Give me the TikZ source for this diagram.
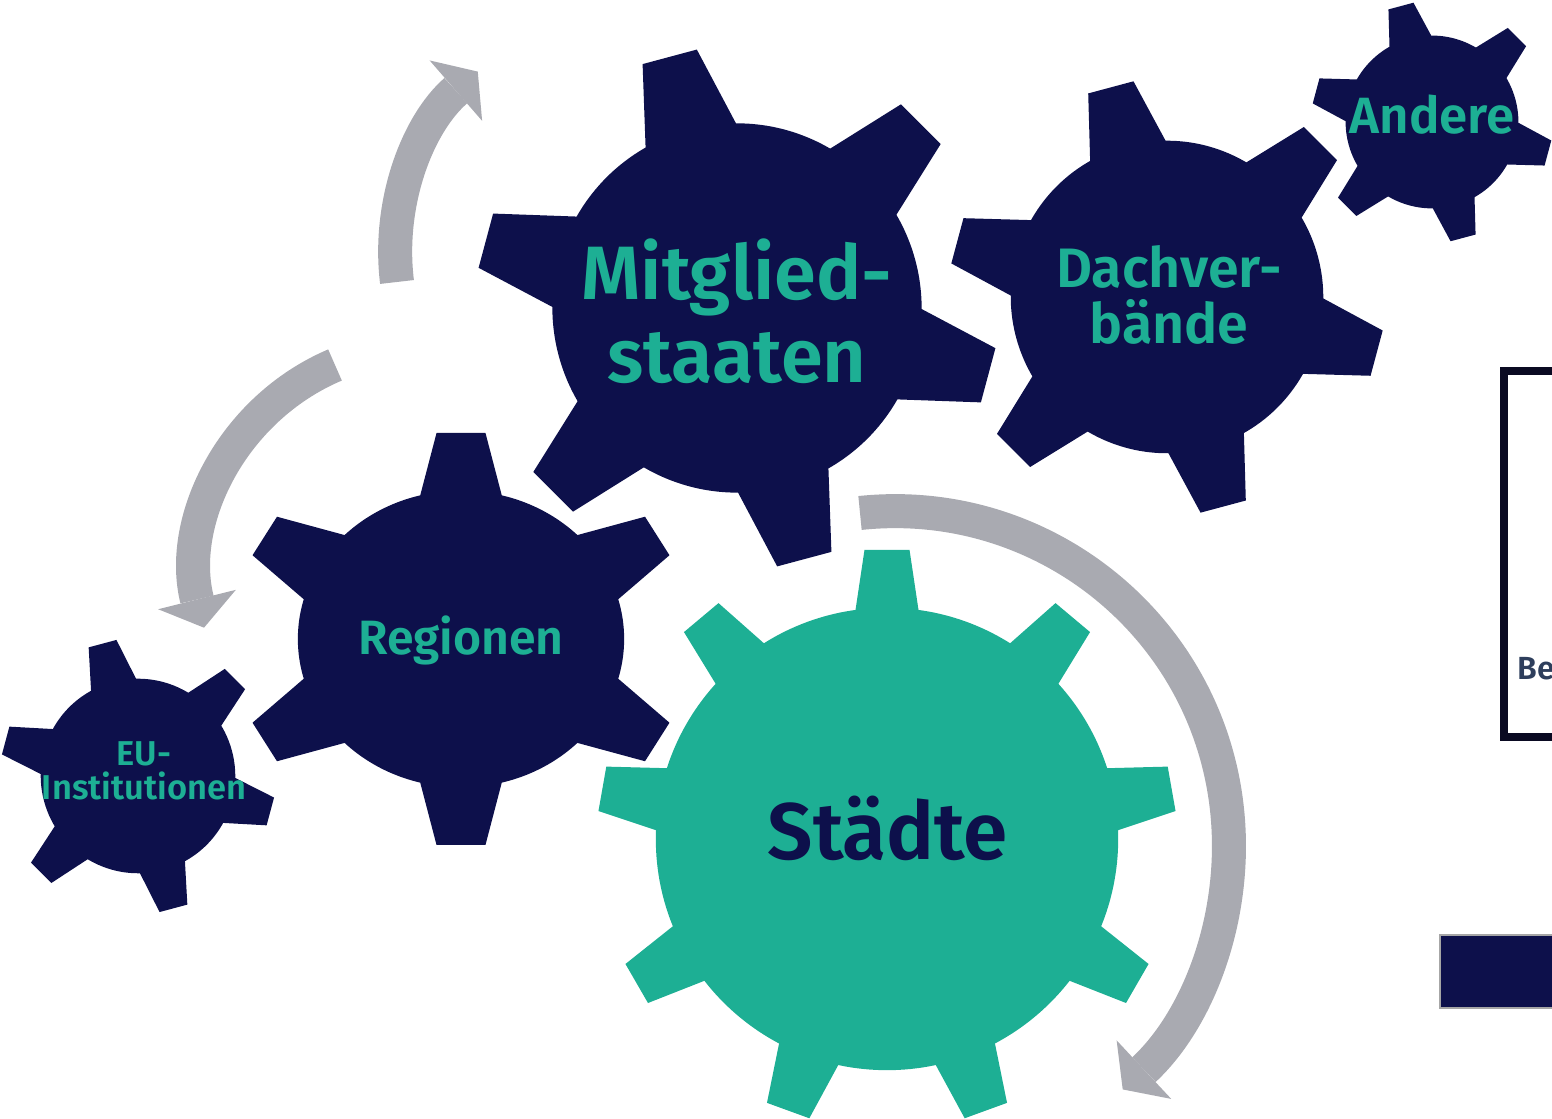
\documentclass[tikz,border=0pt]{standalone}
\usepackage{fontspec}
\setmainfont{Fira Sans}[BoldFont={Fira Sans SemiBold}]
\usetikzlibrary{arrows.meta}
\definecolor{gearnavy}{HTML}{0D104B}
\definecolor{gearteal}{HTML}{1DAF94}
\definecolor{arrowgray}{HTML}{A9AAB1}
\definecolor{framedark}{HTML}{0A0A22}
\definecolor{labelslate}{HTML}{2E3E5C}
\tikzset{
    gear label/.style={text=gearteal, align=center, inner sep=0pt}, % Beschriftung der Zahnraeder
    label size/.style 2 args={font=\bfseries\fontsize{#1}{#2}\selectfont},
    turn arrow/.style={draw=arrowgray, line width=0.34cm, -{Triangle[length=0.29cm, width=0.8cm, line width=0pt]}} % graue Drehpfeile
}
% Zahnrad: [Farbe]{Transformation}{Zaehne}{Koerperradius}{halbe Kopfbreite}{halbe Fussbreite}
\newcommand{\gear}[6][gearnavy]{%
    \begin{scope}[#2, fill=#1]
        \fill (0,0) circle[radius=#4];
        \foreach \k in {1,...,#3}
            \fill[rotate=\k*360/#3] (0,0) -- ({sqrt(#4*#4-#6*#6)},-#6) -- (1,-#5) -- (1,#5) -- ({sqrt(#4*#4-#6*#6)},#6) -- cycle;
    \end{scope}}

\begin{document}
\begin{tikzpicture}[x=0.01cm, y=0.01cm]
    \useasboundingbox (0,0) rectangle (1552,1119);
    \clip (0,0) rectangle (1552,1119);

    % Zahnraeder
    \gear{shift={(737,811)}, scale=260, rotate=105}{6}{0.71}{0.108}{0.18}
    \gear{shift={(1167,822)}, scale=217, rotate=105}{6}{0.72}{0.108}{0.18}
    \gear{shift={(1432,997)}, scale=120, rotate=105}{6}{0.72}{0.108}{0.18}
    \gear{shift={(461,480)}, xscale=1.1, scale=206, rotate=90}{6}{0.72}{0.108}{0.18}
    \gear{shift={(138,343)}, scale=137, rotate=105}{6}{0.71}{0.105}{0.17}
    \gear[gearteal]{shift={(887,280)}, scale=289, rotate=90}{9}{0.80}{0.078}{0.109}

    % Pfeile
    \draw[turn arrow] (397,837) arc[start angle=187, end angle=131, radius=240];
    \draw[turn arrow] (335,754) arc[start angle=113, end angle=194, radius=226];
    \draw[turn arrow] (860,606) arc[start angle=96, end angle=-47, radius=334];

    % Beschriftungen
    \node[gear label, label size={21.5}{23.6}] (mitglied) at (737,808) {Mitglied-\\staaten};
    \node[gear label, label size={15.8}{15.9}] (dachver) at (1169,824) {Dachver-\\bände};
    \node[gear label, label size={14.5}{14.5}, anchor=base] (andere) at (1432,985) {Andere};
    \node[gear label, label size={13.7}{13.7}, anchor=base] (regionen) at (461,464) {Regionen};
    \node[gear label, label size={9.8}{9.7}] (eu) at (144,348) {EU-\\Institutionen};
    \node[gear label, text=gearnavy, label size={22.8}{22.8}, anchor=base] (staedte) at (888,259) {Städte};

    % Rahmen rechts
    \draw[framedark, line width=0.08cm] (1504,748) rectangle (1600,382);
    \node[anchor=base west, inner sep=0pt, text=labelslate, label size={9.1}{9.1}] (be) at (1517,439) {Be};
    \draw[fill=gearnavy, draw=gray!70, line width=0.015cm] (1440,184) rectangle (1600,111);
\end{tikzpicture}
\end{document}
